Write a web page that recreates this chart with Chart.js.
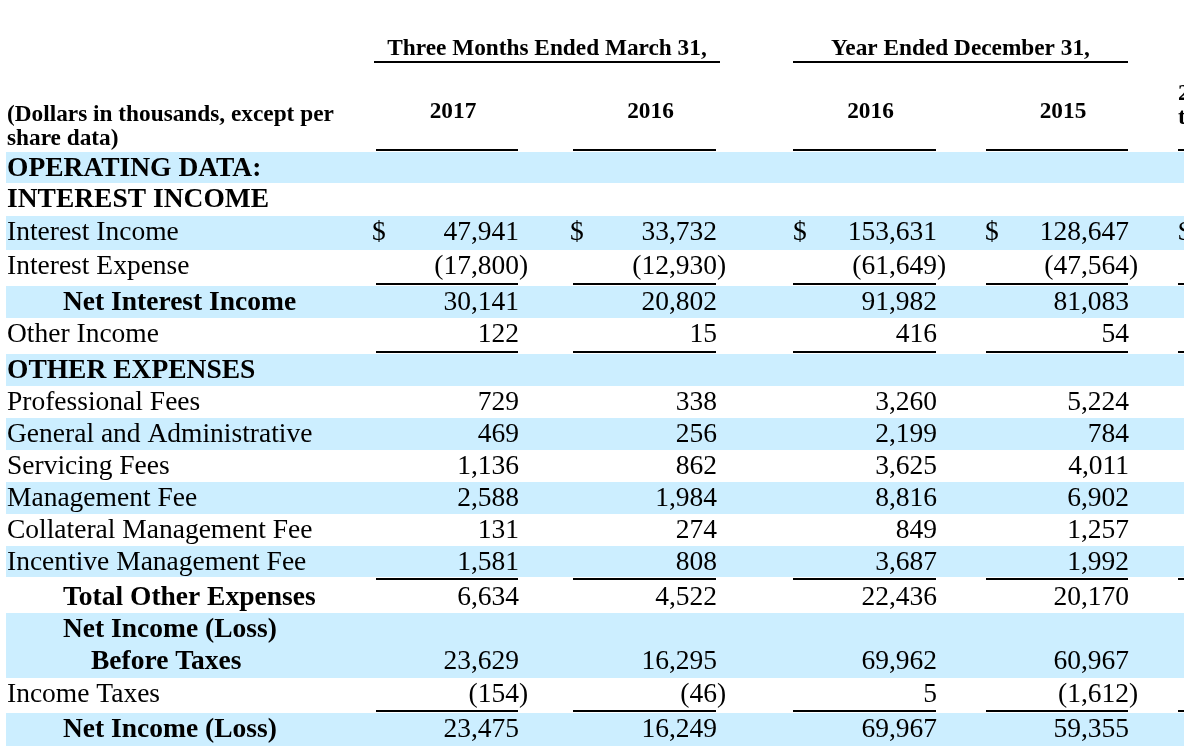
<!DOCTYPE html>
<html>
<head>
<meta charset="utf-8">
<script src="https://cdn.jsdelivr.net/npm/chart.js@4.4.0/dist/chart.umd.min.js"></script>
<style>
  body { margin: 0; background: #fff; }
  canvas { display: block; }
</style>
</head>
<body>
<canvas id="financialTable" width="1184" height="746"></canvas>
<script>
// table text
const unitsNote = ['(Dollars in thousands, except per', 'share data)']
const periodGroups = ['Three Months Ended March 31,', 'Year Ended December 31,']
const columnYears = ['2017', '2016', '2016', '2015']
const cutColumnHeader = ['2', 't'] // column cut off at the right edge

const rowLabels = [
  ['OPERATING DATA:'],
  ['INTEREST INCOME'],
  ['Interest Income'],
  ['Interest Expense'],
  ['Net Interest Income'],
  ['Other Income'],
  ['OTHER EXPENSES'],
  ['Professional Fees'],
  ['General and Administrative'],
  ['Servicing Fees'],
  ['Management Fee'],
  ['Collateral Management Fee'],
  ['Incentive Management Fee'],
  ['Total Other Expenses'],
  ['Net Income (Loss)', 'Before Taxes'],
  ['Income Taxes'],
  ['Net Income (Loss)']
]
const rowKind = ['section', 'section', 'item', 'item', 'total', 'item', 'section', 'item', 'item',
  'item', 'item', 'item', 'item', 'total', 'total', 'item', 'total']

// values, dollars in thousands
const q1_2017 = [null, null, 47941, -17800, 30141, 122, null, 729, 469, 1136, 2588, 131, 1581, 6634, 23629, -154, 23475]
const q1_2016 = [null, null, 33732, -12930, 20802, 15, null, 338, 256, 862, 1984, 274, 808, 4522, 16295, -46, 16249]
const fy2016 = [null, null, 153631, -61649, 91982, 416, null, 3260, 2199, 3625, 8816, 849, 3687, 22436, 69962, 5, 69967]
const fy2015 = [null, null, 128647, -47564, 81083, 54, null, 5224, 784, 4011, 6902, 1257, 1992, 20170, 60967, -1612, 59355]
const valueColumns = [q1_2017, q1_2016, fy2016, fy2015]

const dollarRows = [2]
const ruleBelowRows = [3, 5, 12, 15]

// layout of the page (scale units)
const layout = {
  rowTop: [152, 183, 216, 250, 286, 318, 354, 386, 418, 450, 482, 514, 546, 577, 613, 678, 713, 746],
  ruleLift: { 3: 3, 5: 3, 12: -1, 15: 3 },
  colLeft: [376, 573, 793, 986, 1178],
  colRight: [518, 716, 936, 1128, 1240],
  dollarX: [372, 570, 793, 985, 1178],
  groupSpan: [[374, 720], [793, 1128]],
  labelX: 7,
  totalX: 63,
  secondLineX: 91,
  band: '#CCEEFF'
}

const serif = '"Liberation Serif", "Times New Roman", serif'

function money(v) {
  return Math.abs(v).toLocaleString('en-US')
}

const tablePlugin = {
  id: 'tablePlugin',
  beforeDraw(chart) {
    const ctx = chart.ctx
    const xs = chart.scales.x
    const ys = chart.scales.y
    const x = v => xs.getPixelForValue(v)
    const y = v => ys.getPixelForValue(v)
    const top = layout.rowTop

    ctx.save()
    ctx.fillStyle = '#fff'
    ctx.fillRect(0, 0, chart.width, chart.height)

    // shaded rows
    ctx.fillStyle = layout.band
    for (let r = 0; r < rowLabels.length; r += 2) {
      ctx.fillRect(x(6), y(top[r]), x(1184) - x(6), y(top[r + 1]) - y(top[r]))
    }

    ctx.fillStyle = '#000'
    ctx.textBaseline = 'alphabetic'

    // header
    ctx.font = 'bold 23.3px ' + serif
    ctx.textAlign = 'left'
    ctx.fillText(unitsNote[0], x(layout.labelX), y(121))
    ctx.fillText(unitsNote[1], x(layout.labelX), y(145))
    ctx.textAlign = 'center'
    periodGroups.forEach((g, i) => {
      const span = layout.groupSpan[i]
      ctx.fillText(g, x((span[0] + span[1]) / 2), y(55))
      ctx.fillRect(x(span[0]), y(61), x(span[1]) - x(span[0]), 2)
    })
    columnYears.forEach((yr, c) => {
      const mid = (layout.colLeft[c] + layout.colRight[c]) / 2 + 6
      ctx.fillText(yr, x(mid), y(118))
    })
    ctx.textAlign = 'left'
    ctx.fillText(cutColumnHeader[0], x(layout.colLeft[4]), y(100))
    ctx.fillText(cutColumnHeader[1], x(layout.colLeft[4]), y(124))
    for (let c = 0; c < layout.colLeft.length; c++) {
      ctx.fillRect(x(layout.colLeft[c]), y(149), x(layout.colRight[c]) - x(layout.colLeft[c]), 2)
    }

    // rows
    rowLabels.forEach((lines, r) => {
      const kind = rowKind[r]
      const base = top[r] + (r === 13 ? 28 : 24)
      ctx.textAlign = 'left'
      ctx.font = (kind === 'item' ? '' : 'bold ') + '27.5px ' + serif
      const lx = kind === 'total' ? layout.totalX : layout.labelX
      ctx.fillText(lines[0], x(lx), y(base))
      if (lines.length > 1) ctx.fillText(lines[1], x(layout.secondLineX), y(base + 32))

      const valueBase = base + (lines.length - 1) * 32
      ctx.font = '27.5px ' + serif
      if (dollarRows.includes(r)) {
        layout.dollarX.forEach(dx => {
          ctx.textAlign = 'left'
          ctx.fillText('$', x(dx), y(valueBase))
        })
      }
      valueColumns.forEach((col, c) => {
        const v = col[r]
        if (v === null) return
        const right = x(layout.colRight[c] + 1)
        ctx.textAlign = 'right'
        ctx.fillText((v < 0 ? '(' : '') + money(v), right, y(valueBase))
        if (v < 0) {
          ctx.textAlign = 'left'
          ctx.fillText(')', right, y(valueBase))
        }
      })

      if (ruleBelowRows.includes(r)) {
        const ry = y(top[r + 1] - layout.ruleLift[r])
        for (let c = 0; c < layout.colLeft.length; c++) {
          ctx.fillRect(x(layout.colLeft[c]), ry, x(layout.colRight[c]) - x(layout.colLeft[c]), 2)
        }
      }
    })
    ctx.restore()
  }
}

new Chart(document.getElementById('financialTable'), {
  type: 'scatter',
  data: { datasets: [] },
  options: {
    responsive: false,
    animation: false,
    layout: { padding: 0 },
    plugins: { legend: { display: false }, tooltip: { enabled: false } },
    scales: {
      x: { type: 'linear', min: 0, max: 1184, display: false },
      y: { type: 'linear', min: 0, max: 746, reverse: true, display: false }
    }
  },
  plugins: [tablePlugin]
})
</script>
</body>
</html>
